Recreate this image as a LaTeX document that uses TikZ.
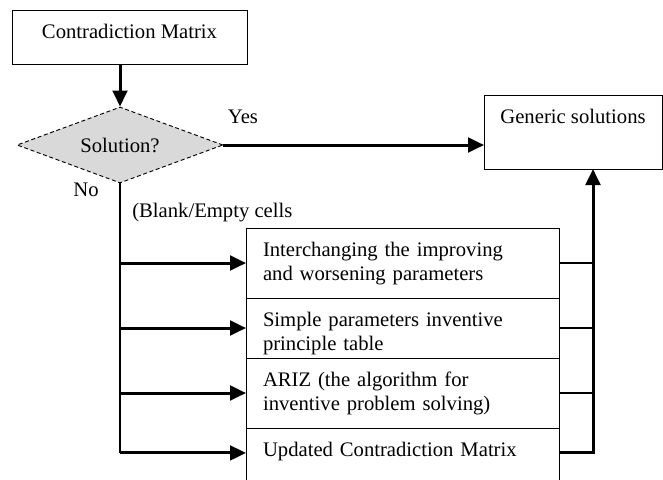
\documentclass[tikz,border=0pt]{standalone}
\usepackage{fontspec}
\setmainfont{Liberation Serif}
\usetikzlibrary{shapes.geometric,arrows.meta,positioning}

\begin{document}
\begin{tikzpicture}[
			x=0.75pt, y=-0.75pt,
			every node/.style={font=\fontsize{15.5}{18.5}\selectfont},
			box/.style={draw, rectangle, line width=0.75pt, outer sep=0pt, inner ysep=0pt, text height=21pt},
			cell/.style={box, align=left, inner xsep=12.75pt, text width=209.25pt},
			decision/.style={diamond, draw, densely dashed, line width=0.7pt, fill=gray!30, minimum width=154.5pt, minimum height=57pt, inner sep=0pt, shape aspect=2.7},
			arrow/.style={line width=2.25pt, -{Triangle[length=12pt,width=11pt]}},
			line/.style={line width=0.9pt}
			]
			\useasboundingbox (0,0) rectangle (663,479);
			
			% nodes
			\node (cm) [box, anchor=north west, minimum width=176.25pt, text depth=19.5pt] at (12,10) {Contradiction Matrix};
			\node (sol) [decision] at (120,145) {Solution?};
			\node (gen) [box, anchor=north west, minimum width=133.5pt, text depth=34.5pt] at (484,95) {Generic solutions};
			\node (b1) [cell, anchor=north west, text depth=31.5pt] at (246,228) {Interchanging the improving\\and worsening parameters};
			\node (b2) [cell, below=0pt of b1, text depth=24pt] {Simple parameters inventive\\principle table};
			\node (b3) [cell, below=0pt of b2, text depth=31.5pt] {ARIZ (the algorithm for\\inventive problem solving)};
			\node (b4) [cell, below=0pt of b3, text depth=31.5pt] {Updated Contradiction Matrix};
			\coordinate (rail) at (593,448);
			
			% labels
			\node (yes) at (243,117) {Yes};
			\node (no) at (86,190) {No};
			\node (blank) [anchor=base west, inner sep=0pt] at (132,217) {(Blank/Empty cells};
			
			% arrows
			\draw [arrow] (cm.south -| sol.north) -- (sol.north);
			\draw [arrow] (sol.east) -- (sol.east -| gen.west);
			\draw [line] (sol.south) -- (sol.south |- b4.mid west);
			\foreach \b in {b1,b2,b3}
				\draw [arrow] (sol.south |- \b.west) -- (\b.west);
			\draw [arrow] (sol.south |- b4.mid west) -- (b4.mid west);
			\foreach \b in {b1,b2,b3}
				\draw [line] (\b.east) -- (\b.east -| rail);
			\draw [arrow] (b4.mid east) -- (b4.mid east -| rail) -- (rail |- gen.south);
			
		\end{tikzpicture}
\end{document}
